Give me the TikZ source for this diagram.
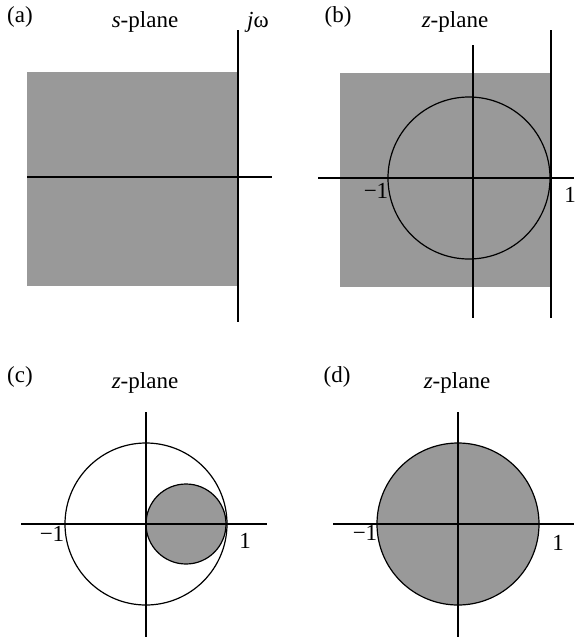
\documentclass[tikz,border=0pt]{standalone}
\usepackage{fontspec}
\setmainfont{Liberation Serif}
\usetikzlibrary{positioning}
\tikzset{
  axis/.style={line width=0.8pt},
  region/.style={fill=black!40},
  rim/.style={line width=0.6pt},
}

\begin{document}
\begin{tikzpicture}[x=0.5pt, y=-0.5pt, font=\fontsize{11.5}{13}\selectfont]
  \useasboundingbox (0,0) rectangle (574,638);
  % (a) s-plane
  \fill[region] (27,72) rectangle (238,286);
  \draw[axis] (27,177) -- (272,177);
  \draw[axis] (238,30) -- (238,322);
  \node (taga) at (20,17) {(a)};
  \node (titlea) at (145,22) {\textit{s}-plane};
  \node (jw) at (258,22) {\textit{j}ω};

  % (b) z-plane, left half plane mapped
  \fill[region] (340,73) rectangle (551,287);
  \draw[axis] (318,178) -- (574,178);
  \draw[axis] (473,45) -- (473,318);
  \draw[axis] (551,30) -- (551,318);
  \draw[rim] (469,178) circle [radius=81];
  \node (tagb) at (338,17) {(b)};
  \node (titleb) at (455,22) {\textit{z}-plane};
  \node (mb) at (376,191) {−1};
  \node (pb) at (570,195) {1};

  % (c) z-plane, small disc
  \draw[rim, region] (186,524) circle [radius=40];
  \draw[rim] (146,524) circle [radius=81];
  \draw[axis] (21,524) -- (267,524);
  \draw[axis] (146,412) -- (146,637);
  \node (tagc) at (20,377) {(c)};
  \node (titlec) at (145,383) {\textit{z}-plane};
  \node (mc) at (52,534) {−1};
  \node (pc) at (245,541) {1};

  % (d) z-plane, unit disc
  \draw[rim, region] (458,524) circle [radius=81];
  \draw[axis] (333,524) -- (574,524);
  \draw[axis] (458,412) -- (458,637);
  \node (tagd) at (337,377) {(d)};
  \node (titled) at (457,383) {\textit{z}-plane};
  \node (md) at (365,533) {−1};
  \node (pd) at (558,543) {1};
\end{tikzpicture}
\end{document}
